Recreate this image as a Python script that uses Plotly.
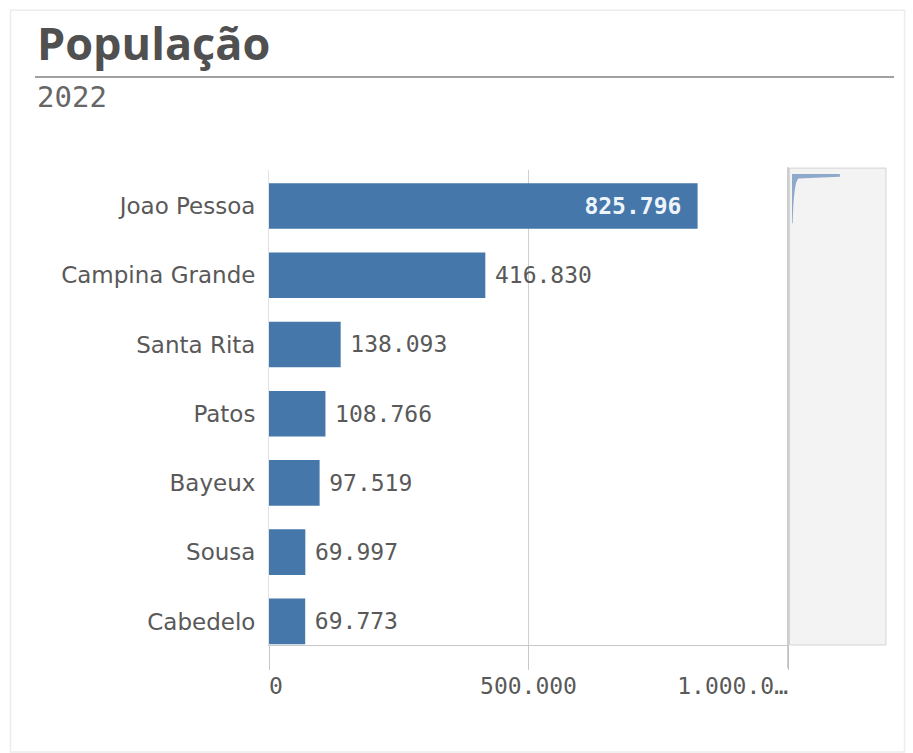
import plotly.graph_objects as go

cities = ["Joao Pessoa", "Campina Grande", "Santa Rita", "Patos", "Bayeux", "Sousa", "Cabedelo"]
population = [825796, 416830, 138093, 108766, 97519, 69997, 69773]
tick_vals = [0, 500000, 1000000]
tick_text = ["0", "500.000", "1.000.0…"]

def fmt(v):
    return f"{v:,}".replace(",", ".")

PAD = "<span style='font-size:11px'>\u00a0</span>"
labels = [fmt(population[0]) + PAD + PAD] + [PAD + fmt(v) for v in population[1:]]
positions = ["inside"] + ["outside"] * (len(population) - 1)
# first label sits just right of the axis, last one ends at its tick (as in the original)
tick_text_disp = ["\u00a0" + tick_text[0]] + tick_text[1:-1] + [tick_text[-1] + "\u00a0" * 8]

BLUE = "#4577aa"
GREY = "#595959"
MONO = "DejaVu Sans Mono, monospace"

fig = go.Figure()
fig.add_trace(go.Bar(
    x=population, y=cities, orientation="h",
    marker=dict(color=BLUE, line=dict(width=0)),
    text=labels, textposition=positions,
    insidetextanchor="end",
    insidetextfont=dict(family=MONO, size=23, color="#eef4fb", weight="bold"),
    outsidetextfont=dict(family=MONO, size=23, color=GREY),
    cliponaxis=False,
    hoverinfo="skip",
))

fig.update_layout(
    width=913, height=753,
    margin=dict(l=269, r=125, t=170, b=108),
    paper_bgcolor="white", plot_bgcolor="white",
    showlegend=False,
    bargap=0.34,
    xaxis=dict(
        range=[0, 1000000], tickvals=tick_vals, ticktext=tick_text_disp,
        showgrid=True, gridcolor="#d0d0d0", gridwidth=1,
        showline=True, linecolor="#c8c8c8", linewidth=1,
        ticks="outside", ticklen=24, tickcolor="#c8c8c8",
        ticklabelstandoff=-4,
        tickfont=dict(family=MONO, size=23, color=GREY),
        zeroline=False, fixedrange=True,
    ),
    yaxis=dict(
        range=[6.34, -0.52],
        showline=True, linecolor="#e2e2e2", linewidth=1,
        ticks="outside", ticklen=8, tickcolor="rgba(0,0,0,0)",
        tickfont=dict(family="DejaVu Sans, sans-serif", size=23, color=GREY),
        showgrid=False, fixedrange=True,
    ),
    shapes=[
        # card border
        dict(type="rect", xref="paper", yref="paper", x0=-0.498, x1=1.2245, y0=-0.225, y1=1.3365,
             line=dict(color="#ececec", width=1.5), fillcolor="rgba(0,0,0,0)", layer="below"),
        # title underline
        dict(type="line", xref="paper", yref="paper", x0=-0.4509, x1=1.2043, y0=1.196, y1=1.196,
             line=dict(color="#a0a0a0", width=2)),
        # scrollbar panel
        dict(type="rect", xref="paper", yref="paper", x0=1.003, x1=1.1888, y0=0.0, y1=1.004,
             line=dict(color="#d4d4d4", width=1), fillcolor="#f3f3f3"),
        dict(type="line", xref="paper", yref="paper", x0=1.0, x1=1.0, y0=-0.049, y1=1.006,
             line=dict(color="#bdbdbd", width=1.5)),
        dict(type="path", xref="paper", yref="paper",
             path="M 1.0077 0.9916 L 1.100 0.9916 L 1.100 0.986 L 1.02 0.982 Q 1.011 0.975 1.009 0.888 L 1.0077 0.888 Z",
             fillcolor="#8fa9cc", line=dict(width=0)),
    ],
    annotations=[
        dict(text="<b>População</b>", xref="paper", yref="paper", x=-0.4509, y=1.2,
             xanchor="left", yanchor="bottom", showarrow=False,
             font=dict(family="Open Sans, sans-serif", size=45, color="#505050")),
        dict(text="2022", xref="paper", yref="paper", x=-0.4509, y=1.193,
             xanchor="left", yanchor="top", showarrow=False,
             font=dict(family=MONO, size=29, color="#666666")),
    ],
)

fig.write_html("out.html")
